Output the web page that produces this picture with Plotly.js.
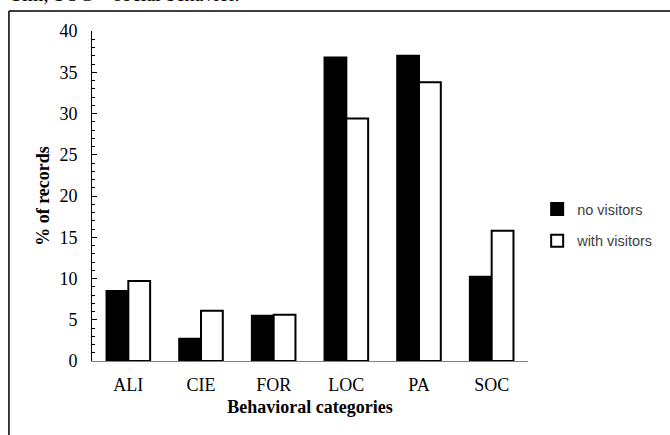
<!DOCTYPE html>
<html>
<head>
<meta charset="utf-8">
<script src="https://cdn.plot.ly/plotly-3.0.1.min.js"></script>
<style>
html,body{margin:0;padding:0;background:#fff;}
#chart{width:670px;height:435px;}
</style>
</head>
<body>
<div id="chart"></div>
<script>
const categories = ["ALI", "CIE", "FOR", "LOC", "PA", "SOC"];
const noVisitors = [8.5, 2.7, 5.5, 36.8, 37.0, 10.2];
const withVisitors = [9.7, 6.1, 5.6, 29.4, 33.8, 15.8];
const seriesNames = ["no visitors", "with visitors"];
const yTickVals = [0, 5, 10, 15, 20, 25, 30, 35, 40];

const serif = "Liberation Serif, Times New Roman, serif";

const traces = [
  {
    type: "bar", x: categories, y: noVisitors, name: seriesNames[0],
    legendgroup: "a",
    marker: {color: "#000000", line: {color: "#000000", width: 2}}
  },
  {
    type: "bar", x: categories, y: withVisitors, name: seriesNames[1],
    legendgroup: "b",
    marker: {color: "#ffffff", line: {color: "#000000", width: 2}}
  }
];

const layout = {
  width: 670, height: 435,
  margin: {l: 92, r: 137, t: 31, b: 74},
  paper_bgcolor: "#ffffff", plot_bgcolor: "#ffffff",
  barmode: "group", bargap: 0.4, bargroupgap: 0,
  font: {family: serif, color: "#000000"},
  xaxis: {
    showgrid: false, zeroline: false,
    showline: true, linecolor: "#808080", linewidth: 1,
    ticks: "", tickfont: {family: serif, size: 18, color: "#000"},
    ticklabelstandoff: 7,
    title: {text: "<b>Behavioral categories</b>", font: {family: serif, size: 18, color: "#000"}, standoff: 6}
  },
  yaxis: {
    range: [0, 40], tickvals: yTickVals,
    showgrid: false, zeroline: false,
    showline: true, linecolor: "#000000", linewidth: 1,
    ticks: "inside", ticklen: 5, tickwidth: 1, tickcolor: "#000",
    minor: {ticks: "inside", dtick: 1, ticklen: 3, tickwidth: 1, tickcolor: "#000"},
    tickfont: {family: serif, size: 18, color: "#000"},
    ticklabelstandoff: 10,
    title: {text: "<b>% of records</b>", font: {family: serif, size: 18, color: "#000"}, standoff: 5}
  },
  showlegend: true,
  legend: {
    x: 1.021, xanchor: "left", y: 0.412, yanchor: "middle",
    traceorder: "grouped", tracegroupgap: 10,
    font: {family: "Liberation Sans, Arial, sans-serif", size: 14.5, color: "#404040"},
    bgcolor: "rgba(0,0,0,0)", itemwidth: 30
  },
  shapes: [
    {type: "line", xref: "paper", yref: "paper", x0: -0.1905, x1: 1.4, y0: 1.0606, y1: 1.0606, line: {color: "#000", width: 1.5}},
    {type: "line", xref: "paper", yref: "paper", x0: -0.1905, x1: -0.1905, y0: 1.0606, y1: -0.3, line: {color: "#000", width: 1.5}}
  ],
  annotations: [
    {xref: "paper", yref: "paper", x: -0.19, y: 1.112, xanchor: "left", yanchor: "middle",
     text: "Sim; SOC = social behavior.", showarrow: false,
     font: {family: serif, size: 20, color: "#000"}}
  ]
};

Plotly.newPlot("chart", traces, layout, {displayModeBar: false, staticPlot: true});
</script>
</body>
</html>
